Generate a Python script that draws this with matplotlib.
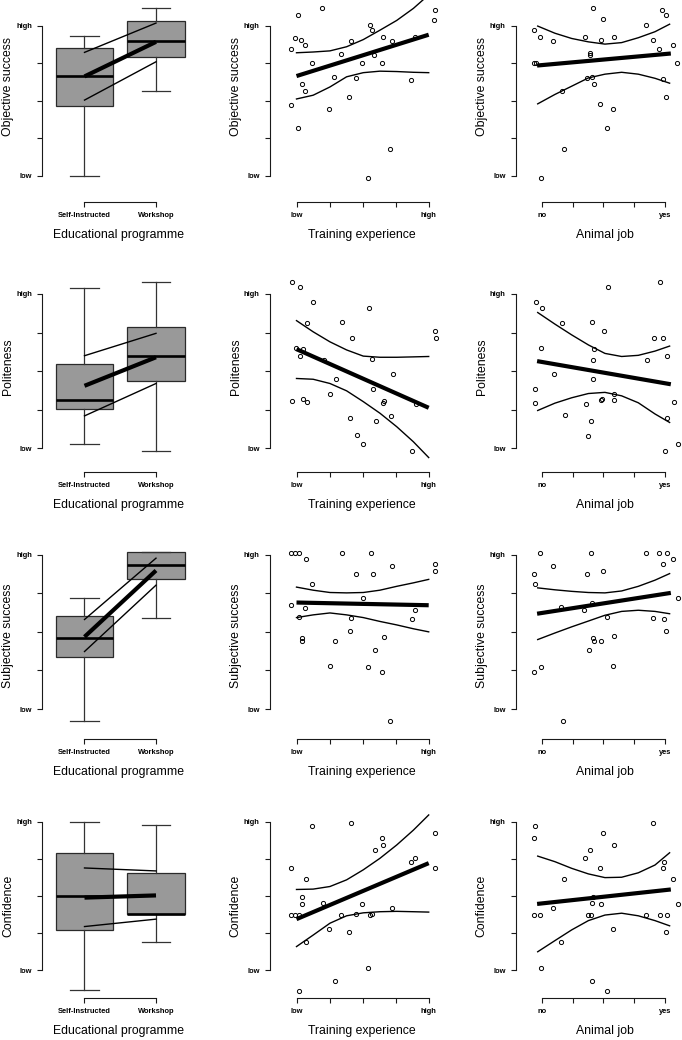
import matplotlib
matplotlib.use("Agg")
import matplotlib.pyplot as plt

plt.rcParams['font.family'] = ['Liberation Sans', 'DejaVu Sans']

# ---------------- data ----------------
outcomes = ["Objective success", "Politeness", "Subjective success", "Confidence"]
programme_labels = ["Self-Instructed", "Workshop"]
training_ticklabels = ["low", "", "", "", "high"]
job_ticklabels = ["no", "", "", "", "yes"]
y_ticklabels = ["low", "", "", "", "high"]

# boxplot stats: [whislo, q1, med, q3, whishi]
obj_box_si = [0.00, 1.86, 2.65, 3.41, 3.72]
obj_box_ws = [2.27, 3.16, 3.59, 4.12, 4.48]
pol_box_si = [0.12, 1.01, 1.25, 2.19, 4.16]
pol_box_ws = [-0.06, 1.75, 2.38, 3.15, 4.32]
sub_box_si = [-0.30, 1.34, 1.85, 2.41, 2.89]
sub_box_ws = [2.37, 3.37, 3.74, 4.08, 4.08]
con_box_si = [-0.54, 1.09, 2.00, 3.16, 4.00]
con_box_ws = [0.77, 1.53, 1.53, 2.63, 3.91]

# programme model fits (Self-Instructed, Workshop)
obj_prog_fit = [2.65, 3.57]; obj_prog_upper = [3.29, 4.07]; obj_prog_lower = [2.02, 3.04]
pol_prog_fit = [1.62, 2.36]; pol_prog_upper = [2.40, 2.98]; pol_prog_lower = [0.84, 1.68]
sub_prog_fit = [1.87, 3.59]; sub_prog_upper = [2.32, 3.91]; sub_prog_lower = [1.49, 3.21]
con_prog_fit = [1.96, 2.02]; con_prog_upper = [2.76, 2.68]; con_prog_lower = [1.18, 1.38]

# training experience scatter
obj_train_x = [0.013, 0.194, 1.045, 1.043, -0.045, -0.013, 0.035, 0.068, 0.114, 0.338, 0.409, 0.558, 0.573, 0.654, 0.722,
               0.588, 0.497, 0.644, 0.896, 0.285, 0.447, 0.866, 0.038, 0.061, -0.045, 0.396, 0.247, 0.015, 0.705, 0.538]
obj_train_y = [4.29, 4.46, 4.41, 4.16, 3.37, 3.68, 3.63, 3.48, 3.01, 3.26, 3.60, 4.01, 3.88, 3.70, 3.58,
               3.21, 3.02, 3.01, 3.70, 2.64, 2.60, 2.56, 2.44, 2.26, 1.90, 2.09, 1.77, 1.29, 0.71, -0.04]
pol_train_x = [-0.035, 0.028, 0.126, 0.078, 0.347, 0.545, 0.420, 1.048, 1.053, -0.005, 0.050, 0.028, 0.568, 0.206, 0.296,
               0.729, 0.580, 0.256, -0.035, 0.050, 0.080, 0.661, 0.651, 0.902, 0.407, 0.714, 0.598, 0.455, 0.505, 0.874]
pol_train_y = [4.30, 4.17, 3.79, 3.26, 3.28, 3.65, 2.87, 3.04, 2.87, 2.59, 2.57, 2.38, 2.31, 2.29, 1.80,
               1.92, 1.53, 1.40, 1.23, 1.27, 1.19, 1.23, 1.17, 1.14, 0.79, 0.85, 0.71, 0.34, 0.11, -0.07]
sub_train_x = [-0.043, -0.013, 0.018, 0.073, 0.341, 0.566, 0.725, 1.051, 1.048, 0.449, 0.576, 0.119, 0.500, -0.043, 0.068,
               0.018, 0.412, 0.899, 0.871, 0.402, 0.659, 0.040, 0.040, 0.290, 0.593, 0.250, 0.543, 0.649, 0.710]
sub_train_y = [4.05, 4.05, 4.05, 3.88, 4.05, 4.05, 3.72, 3.75, 3.57, 3.49, 3.49, 3.23, 2.87, 2.70, 2.63,
               2.38, 2.37, 2.57, 2.34, 2.01, 1.87, 1.84, 1.75, 1.76, 1.53, 1.11, 1.08, 0.97, -0.32]
con_train_x = [0.118, 0.413, 1.045, 0.647, 0.657, 0.592, 0.869, 0.899, 1.048, -0.040, 0.073, 0.040, 0.040, 0.202, 0.499,
               0.723, -0.040, -0.013, 0.018, 0.340, 0.451, 0.559, 0.574, 0.249, 0.400, 0.071, 0.539, 0.290, 0.018]
con_train_y = [3.89, 3.98, 3.71, 3.56, 3.37, 3.24, 2.92, 3.02, 2.75, 2.75, 2.46, 1.99, 1.78, 1.81, 1.78,
               1.68, 1.50, 1.50, 1.50, 1.50, 1.52, 1.50, 1.52, 1.12, 1.03, 0.75, 0.05, -0.30, -0.55]

# training experience model fits
train_fit_x = [0.0, 1.0]
obj_train_fit = [2.66, 3.76]
pol_train_fit = [2.57, 1.05]
sub_train_fit = [2.76, 2.69]
con_train_fit = [1.38, 2.89]
train_ci_x = [0.0, 0.126, 0.253, 0.379, 0.505, 0.631, 0.758, 0.884, 1.0]
obj_train_upper = [3.28, 3.30, 3.33, 3.44, 3.63, 3.88, 4.14, 4.46, 4.82]
obj_train_lower = [2.05, 2.15, 2.37, 2.64, 2.75, 2.79, 2.78, 2.76, 2.75]
pol_train_upper = [3.31, 3.02, 2.76, 2.55, 2.39, 2.36, 2.36, 2.37, 2.38]
pol_train_lower = [1.81, 1.79, 1.68, 1.49, 1.21, 0.91, 0.56, 0.17, -0.24]
sub_train_upper = [3.16, 3.08, 3.02, 3.01, 3.02, 3.08, 3.18, 3.27, 3.36]
sub_train_lower = [2.37, 2.44, 2.49, 2.44, 2.37, 2.27, 2.18, 2.08, 2.00]
con_train_upper = [2.18, 2.19, 2.26, 2.44, 2.71, 3.02, 3.38, 3.78, 4.19]
con_train_lower = [0.64, 0.95, 1.27, 1.47, 1.55, 1.58, 1.59, 1.58, 1.57]

# animal job scatter
obj_job_x = [0.412, 0.496, 0.978, 1.011, -0.062, -0.019, 0.089, 0.347, 0.480, 0.583, 0.848, 0.902, 0.954, 1.068, 0.393,
             0.388, -0.062, -0.051, 1.103, 0.369, 0.407, 0.420, 0.989, 0.163, 1.011, 0.472, 0.575, 0.531, 0.176, -0.005]
obj_job_y = [4.46, 4.17, 4.42, 4.29, 3.88, 3.69, 3.58, 3.71, 3.63, 3.71, 4.02, 3.61, 3.37, 3.49, 3.28,
             3.21, 3.02, 3.02, 3.02, 2.61, 2.63, 2.45, 2.57, 2.26, 2.09, 1.91, 1.77, 1.29, 0.71, -0.04]
pol_job_x = [0.538, 0.965, -0.046, 0.003, 0.166, 0.408, 0.508, 0.913, 0.989, -0.011, 0.424, 0.418, 0.856, 1.019, 0.098,
             0.413, -0.057, 0.587, -0.060, 0.356, 0.484, 0.492, 0.590, 1.076, 0.188, 1.019, 0.397, 0.378, 1.000, 1.111]
pol_job_y = [4.17, 4.30, 3.79, 3.65, 3.26, 3.28, 3.04, 2.87, 2.87, 2.59, 2.57, 2.29, 2.30, 2.38, 1.92,
             1.80, 1.53, 1.40, 1.17, 1.14, 1.25, 1.27, 1.24, 1.19, 0.86, 0.79, 0.71, 0.33, -0.07, 0.11]
sub_job_x = [-0.019, 0.401, 0.847, 0.956, 1.016, 1.071, 0.087, 0.984, 0.499, -0.068, 0.368, -0.054, 1.106, 0.409, 0.155,
             0.346, 0.531, 0.905, 0.995, 1.011, 0.414, 0.422, 0.480, 0.583, 0.387, -0.068, -0.008, 0.578, 0.174]
sub_job_y = [4.05, 4.05, 4.05, 4.05, 4.05, 3.88, 3.72, 3.75, 3.57, 3.49, 3.49, 3.23, 2.87, 2.75, 2.64,
             2.56, 2.39, 2.37, 2.34, 2.02, 1.84, 1.77, 1.77, 1.88, 1.53, 0.97, 1.09, 1.12, -0.31]
con_job_x = [-0.054, -0.068, 0.907, 0.501, 0.583, 0.390, 0.349, 0.995, 0.984, 0.474, 0.177, 1.071, 0.414, 0.409, 0.482,
             0.090, 1.109, -0.065, -0.019, 0.371, 0.398, 0.850, 0.959, 1.019, 0.580, 1.014, 0.158, -0.005, 0.409, 0.531]
con_job_y = [3.89, 3.56, 3.98, 3.71, 3.37, 3.24, 3.02, 2.92, 2.75, 2.75, 2.46, 2.46, 1.99, 1.81, 1.78,
             1.69, 1.78, 1.50, 1.50, 1.50, 1.50, 1.50, 1.50, 1.50, 1.12, 1.03, 0.75, 0.05, -0.30, -0.55]

# animal job model fits
job_fit_x = [-0.04, 1.05]
obj_job_fit = [2.94, 3.26]
pol_job_fit = [2.26, 1.66]
sub_job_fit = [2.47, 3.01]
con_job_fit = [1.79, 2.18]
job_ci_x = [-0.035, 0.105, 0.242, 0.378, 0.513, 0.649, 0.785, 0.921, 1.04]
obj_job_upper = [3.99, 3.80, 3.66, 3.57, 3.51, 3.55, 3.68, 3.84, 4.04]
obj_job_lower = [1.92, 2.17, 2.39, 2.61, 2.71, 2.76, 2.71, 2.60, 2.47]
pol_job_upper = [3.52, 3.22, 2.94, 2.68, 2.46, 2.38, 2.41, 2.52, 2.65]
pol_job_lower = [0.98, 1.17, 1.31, 1.42, 1.45, 1.36, 1.18, 0.89, 0.67]
sub_job_upper = [3.14, 3.09, 3.05, 3.02, 3.01, 3.06, 3.18, 3.34, 3.51]
sub_job_lower = [1.80, 1.97, 2.13, 2.28, 2.43, 2.53, 2.56, 2.53, 2.47]
con_job_upper = [3.08, 2.93, 2.75, 2.60, 2.50, 2.51, 2.63, 2.84, 3.17]
con_job_lower = [0.50, 0.80, 1.09, 1.34, 1.49, 1.54, 1.47, 1.34, 1.20]

# ---------------- layout ----------------
W, H = 682, 1040
fig = plt.figure(figsize=(W / 100, H / 100), dpi=100)
fig.patch.set_facecolor("white")

# per row: top px, high-tick px, low-tick px, x-axis px, ylabel centre px
row_px = [(0, 25.7, 176.0, 201.7, 87),
          (270, 294.0, 448.3, 472.0, 367),
          (535, 554.7, 709.0, 738.7, 636),
          (795, 822.0, 970.3, 998.0, 906)]
# per column: y-axis px, px of first tick, px of last tick, right px, first/last tick value, xlabel centre px
col_px = [(42.0, 84.5, 156.0, 198.0, 1.0, 2.0, 119),
          (269.5, 296.5, 428.7, 445.0, 0.0, 1.0, 362),
          (515.5, 542.0, 664.7, 681.0, 0.0, 1.0, 605)]

box_stats = [(obj_box_si, obj_box_ws), (pol_box_si, pol_box_ws), (sub_box_si, sub_box_ws), (con_box_si, con_box_ws)]
prog_fits = [(obj_prog_fit, obj_prog_upper, obj_prog_lower), (pol_prog_fit, pol_prog_upper, pol_prog_lower),
             (sub_prog_fit, sub_prog_upper, sub_prog_lower), (con_prog_fit, con_prog_upper, con_prog_lower)]
train_pts = [(obj_train_x, obj_train_y), (pol_train_x, pol_train_y), (sub_train_x, sub_train_y), (con_train_x, con_train_y)]
train_fits = [(obj_train_fit, obj_train_upper, obj_train_lower), (pol_train_fit, pol_train_upper, pol_train_lower),
              (sub_train_fit, sub_train_upper, sub_train_lower), (con_train_fit, con_train_upper, con_train_lower)]
job_pts = [(obj_job_x, obj_job_y), (pol_job_x, pol_job_y), (sub_job_x, sub_job_y), (con_job_x, con_job_y)]
job_fits = [(obj_job_fit, obj_job_upper, obj_job_lower), (pol_job_fit, pol_job_upper, pol_job_lower),
            (sub_job_fit, sub_job_upper, sub_job_lower), (con_job_fit, con_job_upper, con_job_lower)]
xlabels = ["Educational programme", "Training experience", "Animal job"]

LINE = "#1a1a1a"
BOXFACE = "#999999"

for r in range(4):
    top, yhi, ylo, bot, ylab_c = row_px[r]
    yunit = (ylo - yhi) / 4.0
    ymin = -(bot - ylo) / yunit
    ymax = (ylo - top) / yunit
    for c in range(3):
        axl, x0p, x1p, rightp, a, b, xlab_c = col_px[c]
        xunit = (x1p - x0p) / (b - a)
        xmin = a - (x0p - axl) / xunit
        xmax = a + (rightp - x0p) / xunit
        ax = fig.add_axes([axl / W, 1 - bot / H, (rightp - axl) / W, (bot - top) / H])
        ax.set_xlim(xmin, xmax)
        ax.set_ylim(ymin, ymax)
        ax.patch.set_alpha(0)

        if c == 0:
            si, ws = box_stats[r]
            stats = []
            for s, lab in zip((si, ws), programme_labels):
                stats.append(dict(whislo=s[0], q1=s[1], med=s[2], q3=s[3], whishi=s[4], fliers=[], label=lab))
            ax.bxp(stats, positions=[1, 2], widths=0.8, patch_artist=True, showfliers=False,
                   boxprops=dict(facecolor=BOXFACE, edgecolor="#2a2a2a", linewidth=0.9),
                   medianprops=dict(color="black", linewidth=1.9, solid_capstyle="butt"),
                   whiskerprops=dict(color="#333333", linewidth=0.9, linestyle="-"),
                   capprops=dict(color="#333333", linewidth=0.9),
                   manage_ticks=False)
            fit, up, lo = prog_fits[r]
            ax.plot([1, 2], up, color="black", lw=1.0)
            ax.plot([1, 2], lo, color="black", lw=1.0)
            ax.plot([1, 2], fit, color="black", lw=3.0, solid_capstyle="butt")
            ax.set_xticks([1, 2])
            ax.set_xticklabels(programme_labels)
            ax.spines["bottom"].set_bounds(1, 2)
        else:
            if c == 1:
                px, py = train_pts[r]
                fit, up, lo = train_fits[r]
                fx, cx = train_fit_x, train_ci_x
                tl = training_ticklabels
            else:
                px, py = job_pts[r]
                fit, up, lo = job_fits[r]
                fx, cx = job_fit_x, job_ci_x
                tl = job_ticklabels
            ax.plot(px, py, linestyle="none", marker="o", ms=3.0, mfc="none", mec="black", mew=0.7)
            ax.plot(cx, up, color="black", lw=1.0)
            ax.plot(cx, lo, color="black", lw=1.0)
            ax.plot(fx, fit, color="black", lw=3.0, solid_capstyle="butt")
            ax.set_xticks([0, 0.25, 0.5, 0.75, 1.0])
            ax.set_xticklabels(tl)
            ax.spines["bottom"].set_bounds(0, 1)

        ax.set_yticks([0, 1, 2, 3, 4])
        ax.set_yticklabels(y_ticklabels)
        ax.spines["left"].set_bounds(0, 4)
        for sp in ("top", "right"):
            ax.spines[sp].set_visible(False)
        for sp in ("left", "bottom"):
            ax.spines[sp].set_color(LINE)
            ax.spines[sp].set_linewidth(0.8)
        ax.tick_params(axis="both", length=3.6, width=0.8, color=LINE, labelsize=5.4, pad=3.5)
        for t in ax.get_xticklabels() + ax.get_yticklabels():
            t.set_fontweight("bold")

        ax.set_xlabel(xlabels[c], fontsize=8.8, va="center")
        ax.xaxis.set_label_coords((xlab_c - axl) / (rightp - axl), (bot - (bot + 33)) / (bot - top))
        ax.set_ylabel(outcomes[r], fontsize=8.8, va="center")
        ax.yaxis.set_label_coords(-34 / (rightp - axl), (bot - ylab_c) / (bot - top))

fig.savefig("out.png", dpi=100, facecolor="white")
